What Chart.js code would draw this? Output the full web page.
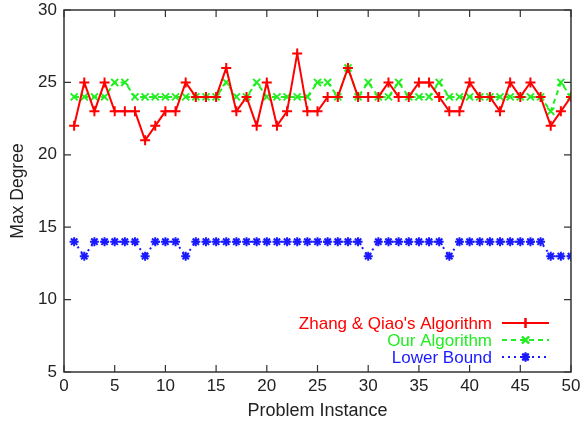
<!DOCTYPE html>
<html>
<head>
<meta charset="utf-8">
<script src="https://cdn.jsdelivr.net/npm/chart.js@4"></script>
<style>
  html, body { margin: 0; padding: 0; background: #fff; }
  #wrap { width: 580px; height: 426px; }
</style>
</head>
<body>
<div id="wrap"><canvas id="myChart" width="580" height="426"></canvas></div>
<script>
// problem instances 1..50
const instances = [];
for (let i = 1; i <= 50; i++) instances.push(i);

const zhangQiao = [22,25,23,25,23,23,23,21,22,23, 23,25,24,24,24,26,23,24,22,25,
                   22,23,27,23,23,24,24,26,24,24, 24,25,24,24,25,25,24,23,23,25,
                   24,24,23,25,24,25,24,22,23,24];
const ourAlgo   = [24,24,24,24,25,25,24,24,24,24, 24,24,24,24,24,25,24,24,25,24,
                   24,24,24,24,25,25,24,26,24,25, 24,24,25,24,24,24,25,24,24,24,
                   24,24,24,24,24,24,24,23,25,24];
const lowerBound = [14,13,14,14,14,14,14,13,14,14, 14,13,14,14,14,14,14,14,14,14,
                    14,14,14,14,14,14,14,14,14,13, 14,14,14,14,14,14,14,13,14,14,
                    14,14,14,14,14,14,14,13,13,13];

const xTicks = [0,5,10,15,20,25,30,35,40,45,50];
const yTicks = [5,10,15,20,25,30];

const seriesNames = ["Zhang & Qiao's Algorithm", 'Our Algorithm', 'Lower Bound'];
const FONT = 'Liberation Sans, Arial, sans-serif';

function pts(arr) {
	return arr.map((v, i) => ({ x: instances[i], y: v }));
}

// gnuplot style frame with inward ticks on all sides
const framePlugin = {
	id: 'frame',
	afterDatasetsDraw(chart) {
		const { ctx, chartArea: a, scales } = chart;
		ctx.save();
		ctx.strokeStyle = '#333';
		ctx.lineWidth = 1.5;
		ctx.strokeRect(a.left, a.top, a.right - a.left, a.bottom - a.top);
		ctx.lineWidth = 1.2;
		ctx.beginPath();
		xTicks.forEach(t => {
			const x = scales.x.getPixelForValue(t);
			ctx.moveTo(x, a.bottom); ctx.lineTo(x, a.bottom - 7);
			ctx.moveTo(x, a.top); ctx.lineTo(x, a.top + 7);
		});
		yTicks.forEach(t => {
			const y = scales.y.getPixelForValue(t);
			ctx.moveTo(a.left, y); ctx.lineTo(a.left + 7, y);
			ctx.moveTo(a.right, y); ctx.lineTo(a.right - 7, y);
		});
		ctx.stroke();
		ctx.restore();
	}
};

// legend in lower right corner of the plot
const legendPlugin = {
	id: 'innerLegend',
	afterDatasetsDraw(chart) {
		const { ctx, chartArea: a } = chart;
		ctx.save();
		ctx.font = '17px ' + FONT;
		ctx.textAlign = 'right';
		ctx.textBaseline = 'middle';
		chart.data.datasets.forEach((ds, i) => {
			const y = a.bottom - 49 + i * 17;
			const textX = a.right - 79;
			ctx.fillStyle = ds.borderColor;
			ctx.fillText(ds.label, textX, y + 1);
			const x0 = a.right - 69, x1 = a.right - 22;
			ctx.strokeStyle = ds.borderColor;
			ctx.lineWidth = 2;
			ctx.setLineDash(ds.borderDash || []);
			ctx.beginPath();
			ctx.moveTo(x0, y); ctx.lineTo(x1, y);
			ctx.stroke();
			ctx.setLineDash([]);
			ctx.lineWidth = ds.pointBorderWidth || 2;
			Chart.helpers.drawPoint(ctx, {
				pointStyle: ds.pointStyle,
				radius: ds.pointRadius,
				borderWidth: ds.pointBorderWidth || 2,
				rotation: 0
			}, (x0 + x1) / 2, y);
			ctx.stroke();
		});
		ctx.restore();
	}
};

new Chart(document.getElementById('myChart').getContext('2d'), {
	type: 'line',
	data: {
		datasets: [
			{
				label: seriesNames[0],
				data: pts(zhangQiao),
				borderColor: '#ff0000',
				backgroundColor: '#ff0000',
				borderWidth: 2,
				pointStyle: 'cross',
				pointRadius: 5,
				pointBorderWidth: 2,
				tension: 0
			},
			{
				label: seriesNames[1],
				data: pts(ourAlgo),
				borderColor: '#22ee22',
				backgroundColor: '#22ee22',
				borderWidth: 2,
				borderDash: [5, 4],
				pointStyle: 'crossRot',
				pointRadius: 5,
				pointBorderWidth: 2,
				tension: 0
			},
			{
				label: seriesNames[2],
				data: pts(lowerBound),
				borderColor: '#1a1aff',
				backgroundColor: '#1a1aff',
				borderWidth: 2,
				borderDash: [2, 4],
				pointStyle: 'star',
				pointRadius: 4.5,
				pointBorderWidth: 2,
				tension: 0
			}
		]
	},
	options: {
		responsive: false,
		animation: false,
		layout: { padding: { top: 10, right: 9, left: 0, bottom: 0 } },
		plugins: {
			legend: { display: false },
			tooltip: { enabled: false }
		},
		scales: {
			x: {
				type: 'linear',
				min: 0, max: 50,
				afterBuildTicks: s => { s.ticks = xTicks.map(v => ({ value: v })); },
				afterFit: s => { s.height = 54; s.paddingLeft = 0; s.paddingRight = 0; },
				grid: { display: false, drawTicks: false },
				border: { display: false },
				ticks: { color: '#222', font: { family: FONT, size: 17 }, padding: 4, maxRotation: 0 },
				title: { display: true, text: 'Problem Instance', color: '#222', font: { family: FONT, size: 18 }, padding: { top: 0, bottom: 4 } }
			},
			y: {
				type: 'linear',
				min: 5, max: 30,
				afterBuildTicks: s => { s.ticks = yTicks.map(v => ({ value: v })); },
				afterFit: s => { s.width = 64; s.paddingTop = 0; s.paddingBottom = 0; },
				grid: { display: false, drawTicks: false },
				border: { display: false },
				ticks: { color: '#222', font: { family: FONT, size: 17 }, padding: 7 },
				title: { display: true, text: 'Max Degree', color: '#222', font: { family: FONT, size: 17.5 }, padding: { top: 8, bottom: 0 } }
			}
		}
	},
	plugins: [framePlugin, legendPlugin]
});
</script>
</body>
</html>
